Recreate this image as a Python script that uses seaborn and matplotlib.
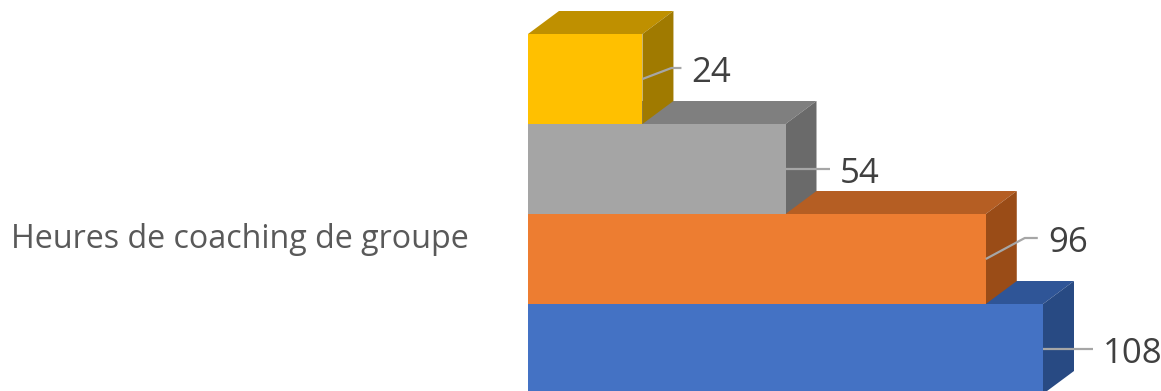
import matplotlib
matplotlib.use("Agg")
import matplotlib.pyplot as plt
import matplotlib.transforms as mtrans
import seaborn as sns
import pandas as pd
import numpy as np
from matplotlib.patches import Polygon

# Data
category = "Heures de coaching de groupe"
series = ["Série 1", "Série 2", "Série 3", "Série 4"]
values = [108, 96, 54, 24]
front_colors = ["#4472C4", "#ED7D31", "#A5A5A5", "#FFC000"]
top_colors = ["#2F5597", "#B55E23", "#7F7F7F", "#BF9000"]
side_colors = ["#284A83", "#9A4C17", "#6A6A6A", "#A07A00"]

df = pd.DataFrame({"cat": [category] * len(series), "serie": series, "val": values})

sns.set_theme(style="white")
plt.rcParams["font.family"] = ["Open Sans", "DejaVu Sans"]

W, H = 1161, 391
fig = plt.figure(figsize=(W / 100, H / 100), dpi=100)
ax = fig.add_axes([528 / W, 0, 1 - 528 / W, 1])

# top series is drawn uppermost
hue_order = series[::-1]
palette = dict(zip(series, front_colors))
sns.barplot(data=df, x="val", y="cat", hue="serie", hue_order=hue_order,
            palette=palette, orient="h", width=0.8, saturation=1,
            legend=False, ax=ax, zorder=1, edgecolor="none", linewidth=0)

px_per_x = (1043 - 528) / 108
ax.set_xlim(0, (W - 528) / px_per_x)
ax.set_ylim(0.4 - 3 / 450, -0.4 - 34 / 450)
for s in ax.spines.values():
    s.set_visible(False)
ax.set_xticks([])
ax.set_xlabel("")
ax.set_ylabel("")
ax.tick_params(axis="y", length=0, pad=42.5)
offset = mtrans.ScaledTranslation(0, -26 / 100, fig.dpi_scale_trans)
for lab in ax.get_yticklabels():
    lab.set_fontsize(23.2)
    lab.set_color("#595959")
    lab.set_va("center")
    lab.set_transform(lab.get_transform() + offset)

fig.canvas.draw()
to_px = ax.transData.transform
to_data = ax.transData.inverted().transform

DX, DY = 31, 23  # depth of the 3D boxes in pixels
# leader elbow offsets (pixels) from the mid point of each bar end, then horizontal run
leaders = {"Série 1": ((0, 0), 50), "Série 2": ((39, 21), 13),
           "Série 3": ((0, 0), 44), "Série 4": ((29, 11), 10)}

# draw bottom bar first so upper bars overlap its top face
containers = list(zip(hue_order, ax.containers))[::-1]
z = 2
for name, cont in containers:
    i = series.index(name)
    bar = cont.patches[0]
    bar.set_edgecolor("none")
    bar.set_linewidth(0)
    x0, y0 = bar.get_x(), bar.get_y()
    x1, y1 = x0 + bar.get_width(), y0 + bar.get_height()
    (pl, pt) = to_px((x0, y0))
    (pr, pb) = to_px((x1, y1))
    top = [(pl, pt), (pr, pt), (pr + DX, pt + DY), (pl + DX, pt + DY)]
    side = [(pr, pt), (pr + DX, pt + DY), (pr + DX, pb + DY), (pr, pb)]
    ax.add_patch(Polygon(to_data(np.array(top)), closed=True, facecolor=top_colors[i],
                         edgecolor="none", zorder=z, clip_on=False))
    ax.add_patch(Polygon(to_data(np.array(side)), closed=True, facecolor=side_colors[i],
                         edgecolor="none", zorder=z + 0.1, clip_on=False))
    bar.set_zorder(z + 0.2)
    z += 1

    # value label with leader line
    (ox, oy), run = leaders[name]
    ym = (pt + pb) / 2
    pts = np.array([(pr, ym), (pr + ox, ym + oy), (pr + ox + run, ym + oy)])
    d = to_data(pts)
    ax.plot(d[:, 0], d[:, 1], color="#A6A6A6", lw=1.6, zorder=20, clip_on=False,
            solid_capstyle="butt")
    tx, ty = to_data((pr + ox + run + 10, ym + oy - 5))
    ax.text(tx, ty, f"{values[i]}", fontsize=25, color="#404040",
            ha="left", va="center", zorder=21, clip_on=False)

fig.savefig("out.png", dpi=100)
